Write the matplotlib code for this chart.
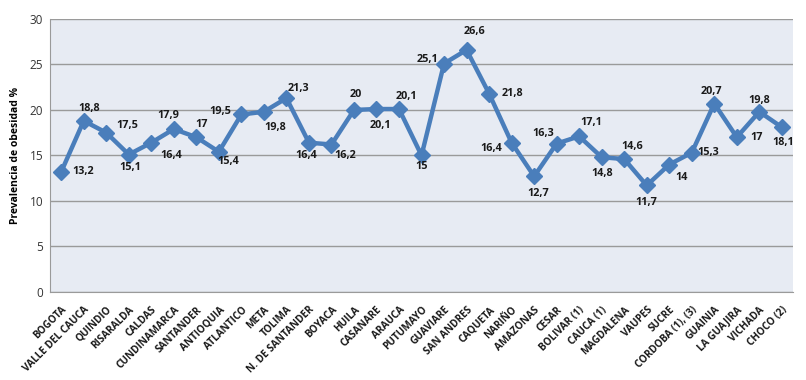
import matplotlib.pyplot as plt

plt.rcParams['font.family'] = ['Open Sans', 'DejaVu Sans']

departamentos = ['BOGOTA', 'VALLE DEL CAUCA', 'QUINDIO', 'RISARALDA', 'CALDAS',
                 'CUNDINAMARCA', 'SANTANDER', 'ANTIOQUIA', 'ATLANTICO', 'META',
                 'TOLIMA', 'N. DE SANTANDER', 'BOYACA', 'HUILA', 'CASANARE',
                 'ARAUCA', 'PUTUMAYO', 'GUAVIARE', 'SAN ANDRES', 'CAQUETA',
                 'NARIÑO', 'AMAZONAS', 'CESAR', 'BOLIVAR (1)', 'CAUCA (1)',
                 'MAGDALENA', 'VAUPES', 'SUCRE', 'CORDOBA (1), (3)', 'GUAINIA',
                 'LA GUAJIRA', 'VICHADA', 'CHOCO (2)']
prevalencia = [13.2, 18.8, 17.5, 15.1, 16.4, 17.9, 17, 15.4, 19.5, 19.8,
               21.3, 16.4, 16.2, 20, 20.1, 20.1, 15, 25.1, 26.6, 21.8,
               16.4, 12.7, 16.3, 17.1, 14.8, 14.6, 11.7, 14, 15.3, 20.7,
               17, 19.8, 18.1]
yticks = [0, 5, 10, 15, 20, 25, 30]

# desplazamiento (puntos) de cada etiqueta respecto a su punto
label_offset = [(16, 0), (4, 9), (15, 5), (1, -9), (14, -9), (-4, 10), (4, 9),
                (7, -7), (-15, 2), (8, -11), (9, 7), (-2, -9), (10, -8), (1, 11),
                (3, -12), (5, 9), (0, -8), (-12, 3), (6, 13), (17, 0), (-15, -4),
                (3, -12), (-10, 7), (9, 10), (0, -12), (6, 9), (0, -12), (9, -9),
                (12, 0), (-2, 9), (14, 0), (0, 8), (1, -11)]

fig = plt.figure(figsize=(8.06, 3.8), dpi=100)
ax = fig.add_axes([0.062, 0.232, 0.922, 0.718])
ax.set_facecolor('#E7EBF3')

x = list(range(len(departamentos)))
ax.plot(x, prevalencia, color='#4A7EBB', linewidth=3.2, marker='D',
        markersize=8, zorder=3)

for i, v in enumerate(prevalencia):
    txt = f'{v:g}'.replace('.', ',')
    ax.annotate(txt, (i, v), xytext=label_offset[i], textcoords='offset points',
                ha='center', va='center', fontsize=7.8, fontweight='bold',
                color='#1a1a1a', zorder=4)

ax.set_xlim(-0.5, len(departamentos) - 0.5)
ax.set_ylim(0, 30)
ax.set_yticks(yticks)
ax.set_yticklabels([str(t) for t in yticks], fontsize=8.5, color='#333333')
ax.yaxis.grid(True, color='#9A9A9A', linewidth=1)
ax.set_axisbelow(True)
ax.set_xticks(x)
ax.set_xticklabels(departamentos, rotation=45, ha='right', rotation_mode='anchor',
                   fontsize=7.2, fontweight='bold', color='#1a1a1a')
ax.tick_params(axis='y', length=0, pad=5)
ax.tick_params(axis='x', length=0, pad=9)
ax.set_ylabel('Prevalencia de obesidad %', fontsize=7.5, fontweight='bold', labelpad=6)

for s in ['top', 'right']:
    ax.spines[s].set_visible(False)
for s in ['left', 'bottom']:
    ax.spines[s].set_color('#9A9A9A')

fig.savefig('out.png', dpi=100, facecolor='white')
